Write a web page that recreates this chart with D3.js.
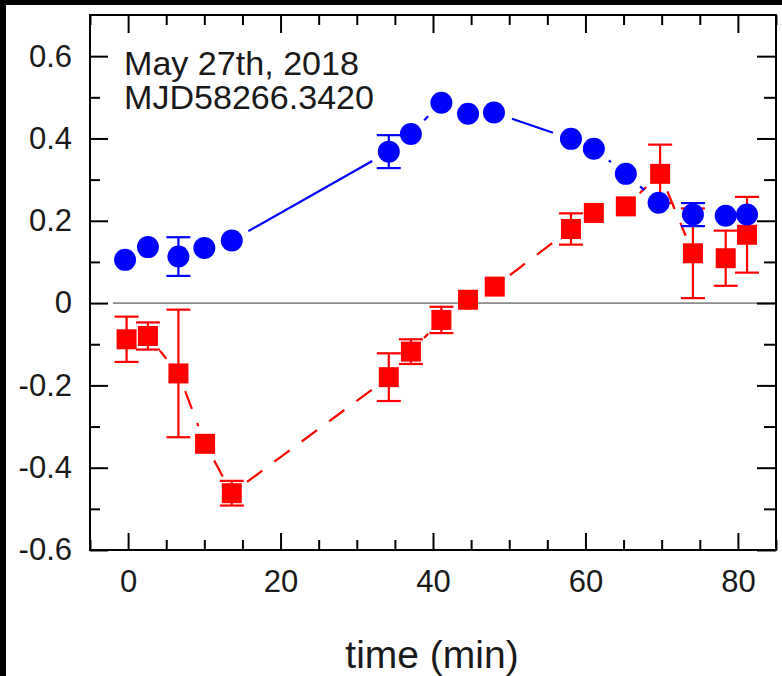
<!DOCTYPE html>
<html>
<head>
<meta charset="utf-8">
<script src="https://cdn.jsdelivr.net/npm/d3@7"></script>
<style>
  html, body { margin: 0; padding: 0; background: #fff; }
  svg { display: block; }
  text { font-family: "Liberation Sans", Arial, Helvetica, sans-serif; fill: #1a1a1a; }
</style>
</head>
<body>
<div id="chart"></div>
<script>
// ---------------- data ----------------
const blueTime = [-0.4, 2.6, 6.6, 10.0, 13.6, 34.2, 37.1, 41.1, 44.6, 48.0, 58.1, 61.1, 65.3, 69.6, 74.1, 78.4, 81.2];
const blueValue = [0.105, 0.136, 0.113, 0.134, 0.152, 0.368, 0.411, 0.487, 0.460, 0.463, 0.399, 0.375, 0.314, 0.244, 0.215, 0.212, 0.215];
const blueError = [0, 0, 0.047, 0, 0, 0.040, 0, 0, 0, 0, 0, 0, 0, 0, 0.028, 0, 0];

const redTime = [-0.2, 2.6, 6.6, 10.1, 13.6, 34.2, 37.1, 41.1, 44.6, 48.1, 58.1, 61.1, 65.3, 69.8, 74.1, 78.4, 81.2];
const redValue = [-0.088, -0.080, -0.171, -0.342, -0.462, -0.180, -0.118, -0.041, 0.008, 0.040, 0.180, 0.219, 0.235, 0.314, 0.121, 0.109, 0.166];
const redError = [0.055, 0.033, 0.155, 0, 0.030, 0.058, 0.030, 0.032, 0, 0, 0.038, 0, 0, 0.071, 0.109, 0.067, 0.092];

const xMajorTicks = [0, 20, 40, 60, 80];
const xMinorTicks = [-5, 5, 10, 15, 25, 30, 35, 45, 50, 55, 65, 70, 75, 85];
const yMajorTicks = [-0.6, -0.4, -0.2, 0, 0.2, 0.4, 0.6];
const yMinorTicks = [-0.5, -0.3, -0.1, 0.1, 0.3, 0.5];
const annotationLines = ["May 27th, 2018", "MJD58266.3420"];
const xTitle = "time (min)";

// ---------------- layout ----------------
const W = 782, H = 676;
const plot = { left: 90, right: 776, top: 15, bottom: 550 };

const svg = d3.select("#chart").append("svg")
  .attr("width", W).attr("height", H);

svg.append("rect").attr("width", W).attr("height", H).attr("fill", "#fff");
// black border bands of the original image
svg.append("rect").attr("x", 0).attr("y", 0).attr("width", 6).attr("height", H).attr("fill", "#000");
svg.append("rect").attr("x", 0).attr("y", 0).attr("width", W).attr("height", 5).attr("fill", "#000");

const x = d3.scaleLinear().domain([-5, 85]).range([plot.left, plot.right]);
const y = d3.scaleLinear().domain([-0.6, 0.7]).range([plot.bottom, plot.top]);

const fmtY = d => (Math.abs(d) < 1e-9 ? "0" : d.toFixed(1));

function styleAxis(g) {
  g.select(".domain").remove();
  g.selectAll(".tick line").attr("stroke", "#000").attr("stroke-width", 2);
  g.selectAll(".tick text").attr("font-size", 31).attr("fill", "#1a1a1a")
    .attr("font-family", '"Liberation Sans", Arial, sans-serif');
}

// zero line
svg.append("line")
  .attr("x1", x(-2)).attr("x2", x(85))
  .attr("y1", y(0)).attr("y2", y(0))
  .attr("stroke", "#8c8c8c").attr("stroke-width", 1.6);

// axes: major
svg.append("g").attr("transform", `translate(0,${plot.bottom})`)
  .call(d3.axisBottom(x).tickValues(xMajorTicks).tickSizeInner(-17).tickSizeOuter(0).tickPadding(20).tickFormat(d3.format("d")))
  .call(styleAxis);
svg.append("g").attr("transform", `translate(0,${plot.top})`)
  .call(d3.axisTop(x).tickValues(xMajorTicks).tickSizeInner(-18).tickSizeOuter(0).tickFormat(""))
  .call(styleAxis);
svg.append("g").attr("transform", `translate(${plot.left},0)`)
  .call(d3.axisLeft(y).tickValues(yMajorTicks).tickSizeInner(-18).tickSizeOuter(0).tickPadding(18).tickFormat(fmtY))
  .call(styleAxis);
svg.append("g").attr("transform", `translate(${plot.right},0)`)
  .call(d3.axisRight(y).tickValues(yMajorTicks).tickSizeInner(-19).tickSizeOuter(0).tickFormat(""))
  .call(styleAxis);
// axes: minor
svg.append("g").attr("transform", `translate(0,${plot.bottom})`)
  .call(d3.axisBottom(x).tickValues(xMinorTicks).tickSizeInner(-10).tickSizeOuter(0).tickFormat(""))
  .call(styleAxis);
svg.append("g").attr("transform", `translate(0,${plot.top})`)
  .call(d3.axisTop(x).tickValues(xMinorTicks).tickSizeInner(-10).tickSizeOuter(0).tickFormat(""))
  .call(styleAxis);
svg.append("g").attr("transform", `translate(${plot.left},0)`)
  .call(d3.axisLeft(y).tickValues(yMinorTicks).tickSizeInner(-10).tickSizeOuter(0).tickFormat(""))
  .call(styleAxis);
svg.append("g").attr("transform", `translate(${plot.right},0)`)
  .call(d3.axisRight(y).tickValues(yMinorTicks).tickSizeInner(-12).tickSizeOuter(0).tickFormat(""))
  .call(styleAxis);

// frame
svg.append("rect")
  .attr("x", plot.left).attr("y", plot.top)
  .attr("width", plot.right - plot.left).attr("height", plot.bottom - plot.top)
  .attr("fill", "none").attr("stroke", "#000").attr("stroke-width", 2);

// ---------------- series ----------------
const GAP = 19;     // line gap around each marker (px)
const CAP = 12;     // half width of error caps

function drawSeries(times, values, errors, color, dash, marker) {
  const pts = times.map((t, i) => ({ px: x(t), py: y(values[i]), v: values[i], e: errors[i] }));
  const gLine = svg.append("g");
  for (let i = 0; i < pts.length - 1; i++) {
    const a = pts[i], b = pts[i + 1];
    const dx = b.px - a.px, dy = b.py - a.py;
    const len = Math.hypot(dx, dy);
    if (len <= 2 * GAP) continue;
    const ux = dx / len, uy = dy / len;
    gLine.append("line")
      .attr("x1", a.px + ux * GAP).attr("y1", a.py + uy * GAP)
      .attr("x2", b.px - ux * GAP).attr("y2", b.py - uy * GAP)
      .attr("stroke", color).attr("stroke-width", 2.2)
      .attr("stroke-dasharray", dash);
  }
  const gErr = svg.append("g").attr("stroke", color).attr("stroke-width", 2.2);
  pts.filter(p => p.e > 0).forEach(p => {
    const yt = y(p.v + p.e), yb = y(p.v - p.e);
    gErr.append("line").attr("x1", p.px).attr("x2", p.px).attr("y1", yt).attr("y2", yb);
    gErr.append("line").attr("x1", p.px - CAP).attr("x2", p.px + CAP).attr("y1", yt).attr("y2", yt);
    gErr.append("line").attr("x1", p.px - CAP).attr("x2", p.px + CAP).attr("y1", yb).attr("y2", yb);
  });
  const gM = svg.append("g").attr("fill", color);
  if (marker === "circle") {
    gM.selectAll("circle").data(pts).join("circle")
      .attr("cx", d => d.px).attr("cy", d => d.py).attr("r", 11);
  } else {
    gM.selectAll("rect").data(pts).join("rect")
      .attr("x", d => d.px - 10).attr("y", d => d.py - 10)
      .attr("width", 20).attr("height", 20);
  }
}

drawSeries(redTime, redValue, redError, "#ff0000", "19,15", "square");
drawSeries(blueTime, blueValue, blueError, "#0000ff", null, "circle");

// ---------------- text ----------------
svg.append("g").selectAll("text").data(annotationLines).join("text")
  .attr("x", 124).attr("y", (d, i) => 74.5 + i * 34)
  .attr("font-size", 33)
  .attr("textLength", (d, i) => i === 0 ? 235 : 250)
  .attr("lengthAdjust", "spacingAndGlyphs")
  .text(d => d);

svg.append("text")
  .attr("x", 432).attr("y", 668)
  .attr("text-anchor", "middle")
  .attr("font-size", 39)
  .text(xTitle);
</script>
</body>
</html>
